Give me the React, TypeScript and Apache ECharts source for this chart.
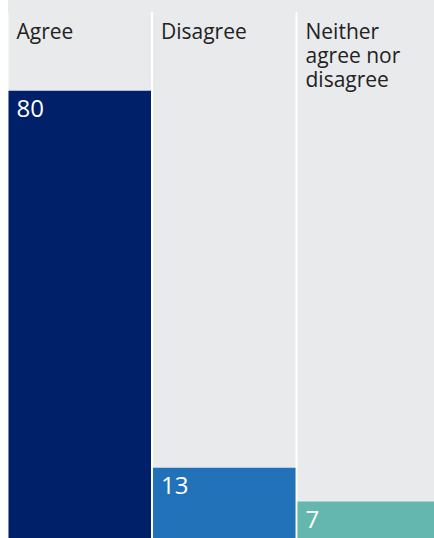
import React, { useEffect, useRef } from "react";
import * as echarts from "echarts";

const categories = ["Agree", "Disagree", "Neither\nagree nor\ndisagree"];
const values = [80, 13, 7];
const barColors = ["#00206A", "#2272B9", "#64B7AE"];
const yMax = 94;

const FONT = "'Open Sans', 'Noto Sans', sans-serif";
const GREY = "#E9EAEC";

export default function App() {
  const ref = useRef<HTMLDivElement>(null);
  useEffect(() => {
    if (!ref.current) return;
    const chart = echarts.init(ref.current, undefined, { renderer: "svg" });
    chart.setOption({
      animation: false,
      backgroundColor: "#ffffff",
      grid: { left: 7.5, right: 9, top: 12, bottom: 4, containLabel: false },
      xAxis: {
        type: "category",
        data: categories,
        axisLine: { show: false },
        axisTick: { show: false },
        axisLabel: { show: false },
        splitLine: { show: false },
      },
      yAxis: {
        type: "value",
        min: 0,
        max: yMax,
        show: false,
      },
      graphic: [
        {
          type: "rect",
          left: 8,
          top: 0,
          shape: { width: 500, height: 12 },
          style: { fill: GREY },
          z: 0,
        },
      ],
      series: [
        {
          type: "bar",
          data: values.map((v, i) => ({ value: v, itemStyle: { color: barColors[i] } })),
          barWidth: 142.5,
          showBackground: true,
          backgroundStyle: { color: GREY },
          label: {
            show: true,
            position: "insideTopLeft",
            distance: 8,
            offset: [0, -3],
            color: "#ffffff",
            fontSize: 24,
            fontFamily: FONT,
          },
          silent: true,
        },
        {
          type: "bar",
          data: categories.map(() => yMax),
          barWidth: 142.5,
          barGap: "-100%",
          itemStyle: { color: "rgba(0,0,0,0)" },
          label: {
            show: true,
            position: "insideTopLeft",
            distance: 8,
            offset: [0, -1],
            formatter: "{b}",
            color: "#222222",
            fontSize: 21,
            lineHeight: 24,
            fontFamily: FONT,
          },
          silent: true,
        },
      ],
    });
    return () => chart.dispose();
  }, []);
  return (
    <div
      style={{
        position: "fixed",
        left: 0,
        top: 0,
        width: 434,
        height: 538,
        overflow: "hidden",
        background: "#ffffff",
      }}
    >
      <div ref={ref} style={{ width: 450, height: 545 }} />
    </div>
  );
}
